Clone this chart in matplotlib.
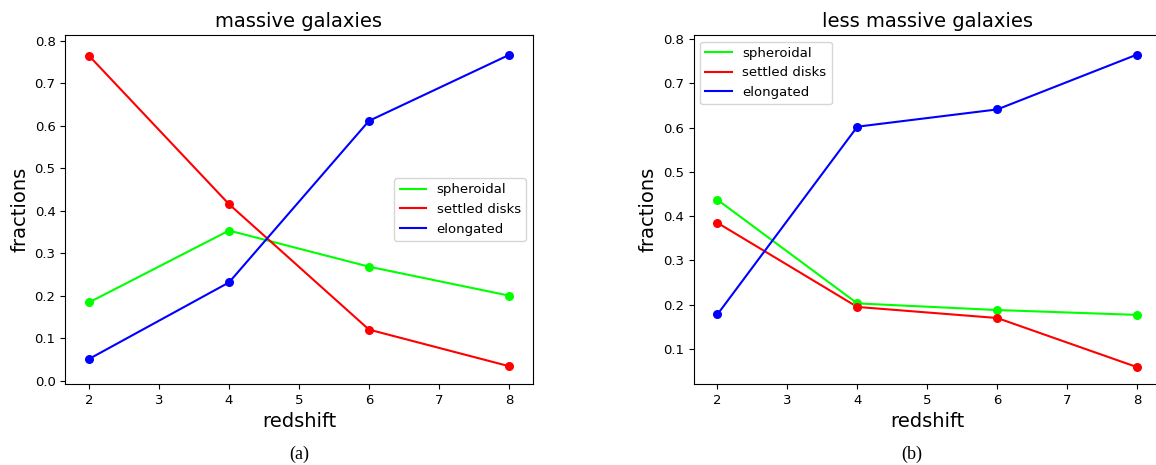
import matplotlib
matplotlib.use("Agg")
import matplotlib.pyplot as plt

# === Data ===
redshift = [2, 4, 6, 8]

# massive galaxies
massive_spheroidal = [0.184, 0.353, 0.268, 0.200]
massive_settled = [0.764, 0.415, 0.120, 0.034]
massive_elongated = [0.051, 0.231, 0.611, 0.766]

# less massive galaxies
less_spheroidal = [0.437, 0.203, 0.188, 0.177]
less_settled = [0.385, 0.195, 0.170, 0.059]
less_elongated = [0.178, 0.602, 0.641, 0.765]

labels = ["spheroidal", "settled disks", "elongated"]
colors = ["#00ff00", "#ff0000", "#0000ff"]

fig = plt.figure(figsize=(11.56, 4.65), dpi=100)
ax1 = fig.add_axes([0.0565, 0.1742, 0.4043, 0.7505])
ax2 = fig.add_axes([0.6000, 0.1742, 0.4043, 0.7505])


def draw_panel(ax, series, title, legend_loc, ylim):
    for vals, lab, col in zip(series, labels, colors):
        ax.plot(redshift, vals, color=col, label=lab, lw=1.5)
        ax.scatter(redshift, vals, color=col, s=30, zorder=3)
    ax.set_title(title, fontsize=14)
    ax.set_xlabel("redshift", fontsize=14)
    ax.set_ylabel("fractions", fontsize=14)
    ax.set_xlim(1.66, 8.34)
    ax.set_ylim(*ylim)
    ax.tick_params(labelsize=9.5)
    ax.legend(loc=legend_loc, fontsize=9.5)


draw_panel(ax1, [massive_spheroidal, massive_settled, massive_elongated],
           "massive galaxies", "center right", (-0.008, 0.813))
draw_panel(ax2, [less_spheroidal, less_settled, less_elongated],
           "less massive galaxies", "upper left", (0.021, 0.809))

# sub-figure captions
fig.text(0.2587, 0.022, "(a)", ha="center", va="center",
         fontsize=13, family="Liberation Serif")
fig.text(0.789, 0.022, "(b)", ha="center", va="center",
         fontsize=13, family="Liberation Serif")

fig.savefig("out.png", dpi=100)
